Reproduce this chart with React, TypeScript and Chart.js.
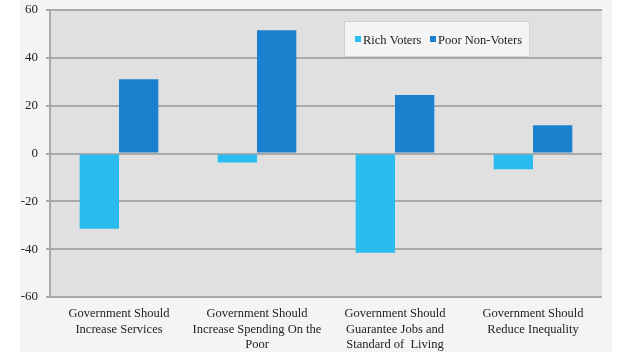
import React, { useEffect, useRef } from "react";
import { Chart, registerables } from "chart.js";

Chart.register(...registerables);

const categories: string[][] = [
  ["Government Should", "Increase Services"],
  ["Government Should", "Increase Spending On the", "Poor"],
  ["Government Should", "Guarantee Jobs and", "Standard of  Living"],
  ["Government Should", "Reduce Inequality"],
];
const richVoters = [-31.5, -3.8, -41.5, -6.6];
const poorNonVoters = [31, 51.5, 24.5, 11.8];
const seriesNames = ["Rich Voters", "Poor Non-Voters"];
const seriesColors = ["#2bbcef", "#1b80cd"];
const yMin = -60;
const yMax = 60;
const yStep = 20;

const FONT = "'Liberation Serif', 'Times New Roman', serif";

const bgPlugin = {
  id: "bgPlugin",
  beforeDraw(chart: any) {
    const { ctx, chartArea } = chart;
    ctx.save();
    ctx.fillStyle = "#ffffff";
    ctx.fillRect(0, 0, chart.width, chart.height);
    ctx.fillStyle = "#f4f4f4";
    ctx.fillRect(20, 0, 592, 352);
    ctx.fillStyle = "#e0e0e0";
    ctx.fillRect(chartArea.left, chartArea.top, chartArea.right - chartArea.left, chartArea.bottom - chartArea.top);
    ctx.restore();
  },
};

const legendPlugin = {
  id: "boxLegend",
  afterDraw(chart: any) {
    const { ctx } = chart;
    ctx.save();
    const bx = 344, by = 21, bw = 186, bh = 36;
    ctx.fillStyle = "#f4f4f4";
    ctx.fillRect(bx, by, bw, bh);
    ctx.strokeStyle = "#d2d2d2";
    ctx.lineWidth = 1;
    ctx.strokeRect(bx + 0.5, by + 0.5, bw - 1, bh - 1);
    ctx.font = `12.5px ${FONT}`;
    ctx.textBaseline = "middle";
    ctx.textAlign = "left";
    const cy = by + bh / 2 + 2;
    const xs = [355, 430];
    seriesNames.forEach((name, i) => {
      ctx.fillStyle = seriesColors[i];
      ctx.fillRect(xs[i], cy - 5, 6, 6);
      ctx.fillStyle = "#222222";
      ctx.fillText(name, xs[i] + 8, cy);
    });
    ctx.restore();
  },
};

export default function App() {
  const ref = useRef<HTMLCanvasElement | null>(null);
  useEffect(() => {
    if (!ref.current) return;
    const chart = new Chart(ref.current, {
      type: "bar",
      data: {
        labels: categories,
        datasets: [
          {
            label: seriesNames[0],
            data: richVoters,
            backgroundColor: seriesColors[0],
            categoryPercentage: 0.57,
            barPercentage: 1,
          },
          {
            label: seriesNames[1],
            data: poorNonVoters,
            backgroundColor: seriesColors[1],
            categoryPercentage: 0.57,
            barPercentage: 1,
          },
        ],
      },
      options: {
        animation: false,
        responsive: false,
        maintainAspectRatio: false,
        layout: { padding: { left: 20, right: 28, top: 10, bottom: 0 } },
        plugins: {
          legend: { display: false },
          tooltip: { enabled: false },
        },
        scales: {
          x: {
            grid: { display: false },
            border: { display: false },
            ticks: {
              color: "#222222",
              font: { family: FONT, size: 12.5, lineHeight: 1.25 },
              maxRotation: 0,
              autoSkip: false,
              padding: 1,
            },
            afterFit(scale: any) {
              scale.height = 60;
              scale.paddingLeft = 0;
              scale.paddingRight = 0;
            },
          },
          y: {
            min: yMin,
            max: yMax,
            grid: {
              color: "#a9a9a9",
              lineWidth: 2,
              tickLength: 4,
              drawTicks: true,
            },
            border: { display: true, color: "#a9a9a9", width: 2 },
            ticks: {
              stepSize: yStep,
              color: "#222222",
              font: { family: FONT, size: 13 },
              padding: 8,
            },
            afterFit(scale: any) {
              scale.width = 30;
              scale.paddingTop = 0;
              scale.paddingBottom = 0;
            },
          },
        },
      },
      plugins: [bgPlugin, legendPlugin],
    });
    return () => chart.destroy();
  }, []);
  return (
    <div style={{ position: "absolute", left: 0, top: 0, width: 630, height: 357 }}>
      <canvas ref={ref} width={630} height={357} style={{ display: "block" }} />
    </div>
  );
}
